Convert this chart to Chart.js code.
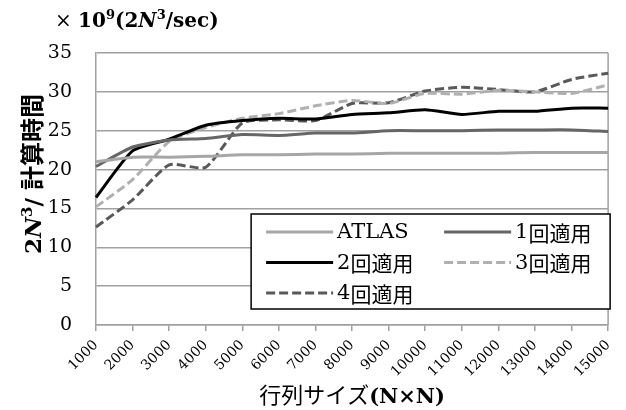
<!DOCTYPE html>
<html>
<head>
<meta charset="utf-8">
<script src="https://cdn.jsdelivr.net/npm/chart.js@4/dist/chart.umd.min.js"></script>
<style>
  html, body { margin: 0; padding: 0; background: #fff; }
  #wrap { width: 626px; height: 410px; }
</style>
</head>
<body>
<div id="wrap"><canvas id="perfChart" width="626" height="410"></canvas></div>
<script>
// matrix sizes (N) and throughput for each variant
const sizes = ['1000', '2000', '3000', '4000', '5000', '6000', '7000', '8000',
               '9000', '10000', '11000', '12000', '13000', '14000', '15000'];
const atlas  = [21.0, 21.6, 21.6, 21.7, 21.9, 21.9, 22.0, 22.0, 22.1, 22.1, 22.1, 22.1, 22.2, 22.2, 22.2];
const apply1 = [20.4, 22.9, 23.8, 24.0, 24.5, 24.4, 24.7, 24.7, 25.0, 25.0, 25.0, 25.1, 25.1, 25.1, 24.9];
const apply2 = [16.4, 22.4, 23.9, 25.7, 26.3, 26.6, 26.5, 27.1, 27.3, 27.7, 27.1, 27.5, 27.5, 27.9, 27.9];
const apply3 = [15.2, 18.7, 23.6, 25.4, 26.6, 27.2, 28.2, 28.9, 28.5, 29.8, 29.7, 30.2, 30.0, 29.8, 30.9];
const apply4 = [12.6, 16.1, 20.6, 20.3, 26.0, 26.4, 26.3, 28.5, 28.6, 30.1, 30.6, 30.3, 30.0, 31.6, 32.4];
const yTicks = [0, 5, 10, 15, 20, 25, 30, 35];

const SERIF = '"DejaVu Serif", "Liberation Serif", serif';
const CJK = '"Noto Sans CJK JP", sans-serif';
const GRID = '#a0a0a0';

// draw a run of text pieces with different fonts, left to right
function drawPieces(ctx, pieces, x, y) {
    let cx = x;
    pieces.forEach(p => {
        ctx.font = p.font;
        ctx.fillText(p.text, cx, y + (p.dy || 0));
        cx += ctx.measureText(p.text).width;
    });
    return cx - x;
}
function piecesWidth(ctx, pieces) {
    let w = 0;
    pieces.forEach(p => { ctx.font = p.font; w += ctx.measureText(p.text).width; });
    return w;
}

const textPlugin = {
    id: 'extraText',
    afterDraw(chart) {
        const ctx = chart.ctx;
        const ca = chart.chartArea;
        ctx.save();
        ctx.fillStyle = '#000';
        ctx.textBaseline = 'alphabetic';
        ctx.textAlign = 'left';

        // unit label above the plot
        const b = 'bold 20px ' + SERIF;
        const bi = 'italic bold 20px ' + SERIF;
        const sup = 'bold 13px ' + SERIF;
        drawPieces(ctx, [
            { text: '× ', font: '20px ' + SERIF },
            { text: '10', font: b },
            { text: '9', font: sup, dy: -8 },
            { text: '(2', font: b },
            { text: 'N', font: bi },
            { text: '3', font: sup, dy: -8 },
            { text: '/sec)', font: b }
        ], 55, 27);

        // rotated y-axis title
        const yTitle = [
            { text: '2', font: 'bold 23px ' + SERIF },
            { text: 'N', font: 'italic bold 23px ' + SERIF },
            { text: '3', font: 'bold 15px ' + SERIF, dy: -9 },
            { text: '/ ', font: 'bold 23px ' + SERIF },
            { text: '計算時間', font: 'bold 24px ' + CJK }
        ];
        ctx.save();
        ctx.translate(41, (ca.top + ca.bottom) / 2 - 15);
        ctx.rotate(-Math.PI / 2);
        drawPieces(ctx, yTitle, -piecesWidth(ctx, yTitle) / 2, 0);
        ctx.restore();

        // x-axis title
        const xTitle = [
            { text: '行列サイズ', font: '22px ' + CJK },
            { text: '(N×N)', font: 'bold 21px ' + SERIF }
        ];
        const cx = (ca.left + ca.right) / 2;
        drawPieces(ctx, xTitle, cx - piecesWidth(ctx, xTitle) / 2, 403);
        ctx.restore();
    }
};

const framePlugin = {
    id: 'frame',
    beforeDatasetsDraw(chart) {
        const ctx = chart.ctx;
        const ca = chart.chartArea;
        ctx.save();
        ctx.strokeStyle = GRID;
        ctx.lineWidth = 1.5;
        ctx.beginPath();
        ctx.moveTo(ca.right, ca.top);
        ctx.lineTo(ca.right, ca.bottom);
        ctx.stroke();
        ctx.restore();
    }
};

// boxed legend placed inside the plot's lower right corner
const boxLegend = {
    id: 'boxLegend',
    afterDatasetsDraw(chart) {
        const ctx = chart.ctx;
        const ca = chart.chartArea;
        const w = 359, h = 95;
        const x0 = ca.right + 2 - w, y0 = ca.bottom - 16 - h;
        ctx.save();
        ctx.fillStyle = '#fff';
        ctx.fillRect(x0, y0, w, h);
        ctx.strokeStyle = '#000';
        ctx.lineWidth = 1.5;
        ctx.strokeRect(x0, y0, w, h);
        ctx.textBaseline = 'middle';
        chart.data.datasets.forEach((ds, i) => {
            const col = i % 2, row = Math.floor(i / 2);
            const lx = x0 + 15 + col * 178;
            const ly = y0 + 18 + row * 30.5;
            ctx.strokeStyle = ds.borderColor;
            ctx.lineWidth = ds.borderWidth;
            ctx.setLineDash(ds.borderDash || []);
            ctx.beginPath();
            ctx.moveTo(lx, ly);
            ctx.lineTo(lx + 67, ly);
            ctx.stroke();
            ctx.setLineDash([]);
            ctx.fillStyle = '#000';
            const m = /^(\d)(.*)$/.exec(ds.label);
            if (m) {
                drawPieces(ctx, [
                    { text: m[1], font: '21px ' + SERIF },
                    { text: m[2], font: '21px ' + CJK }
                ], lx + 71, ly + 1);
            } else {
                ctx.font = '21px ' + SERIF;
                ctx.fillText(ds.label, lx + 71, ly + 1);
            }
        });
        ctx.restore();
    }
};

function series(label, data, color, dash) {
    return {
        label: label,
        data: data,
        borderColor: color,
        backgroundColor: color,
        borderWidth: 3,
        borderDash: dash,
        tension: 0.2,
        pointRadius: 0,
        fill: false
    };
}

new Chart(document.getElementById('perfChart'), {
    type: 'line',
    data: {
        labels: sizes,
        datasets: [
            series('ATLAS', atlas, '#a6a6a6', []),
            series('1回適用', apply1, '#666666', []),
            series('2回適用', apply2, '#000000', []),
            series('3回適用', apply3, '#b0b0b0', [9, 4]),
            series('4回適用', apply4, '#595959', [9, 4])
        ]
    },
    options: {
        responsive: false,
        animation: false,
        layout: { padding: { left: 0, right: 17, top: 53, bottom: 0 } },
        plugins: {
            legend: { display: false },
            tooltip: { enabled: false }
        },
        scales: {
            x: {
                offset: false,
                grid: {
                    drawOnChartArea: false,
                    drawTicks: true,
                    tickLength: 6,
                    color: GRID,
                    lineWidth: 1.5
                },
                border: { color: GRID, width: 1.5 },
                ticks: {
                    minRotation: 45,
                    maxRotation: 45,
                    autoSkip: false,
                    padding: 6,
                    color: '#000',
                    font: { family: SERIF, size: 14 }
                },
                afterFit: s => { s.height = 85; }
            },
            y: {
                min: 0,
                max: 35,
                afterBuildTicks: s => { s.ticks = yTicks.map(v => ({ value: v })); },
                grid: { color: GRID, lineWidth: 1.5, drawTicks: false },
                border: { color: GRID, width: 1.5 },
                ticks: {
                    padding: 24,
                    color: '#000',
                    font: { family: SERIF, size: 19 }
                },
                afterFit: s => { s.width = 96; }
            }
        }
    },
    plugins: [framePlugin, boxLegend, textPlugin]
});
</script>
</body>
</html>
